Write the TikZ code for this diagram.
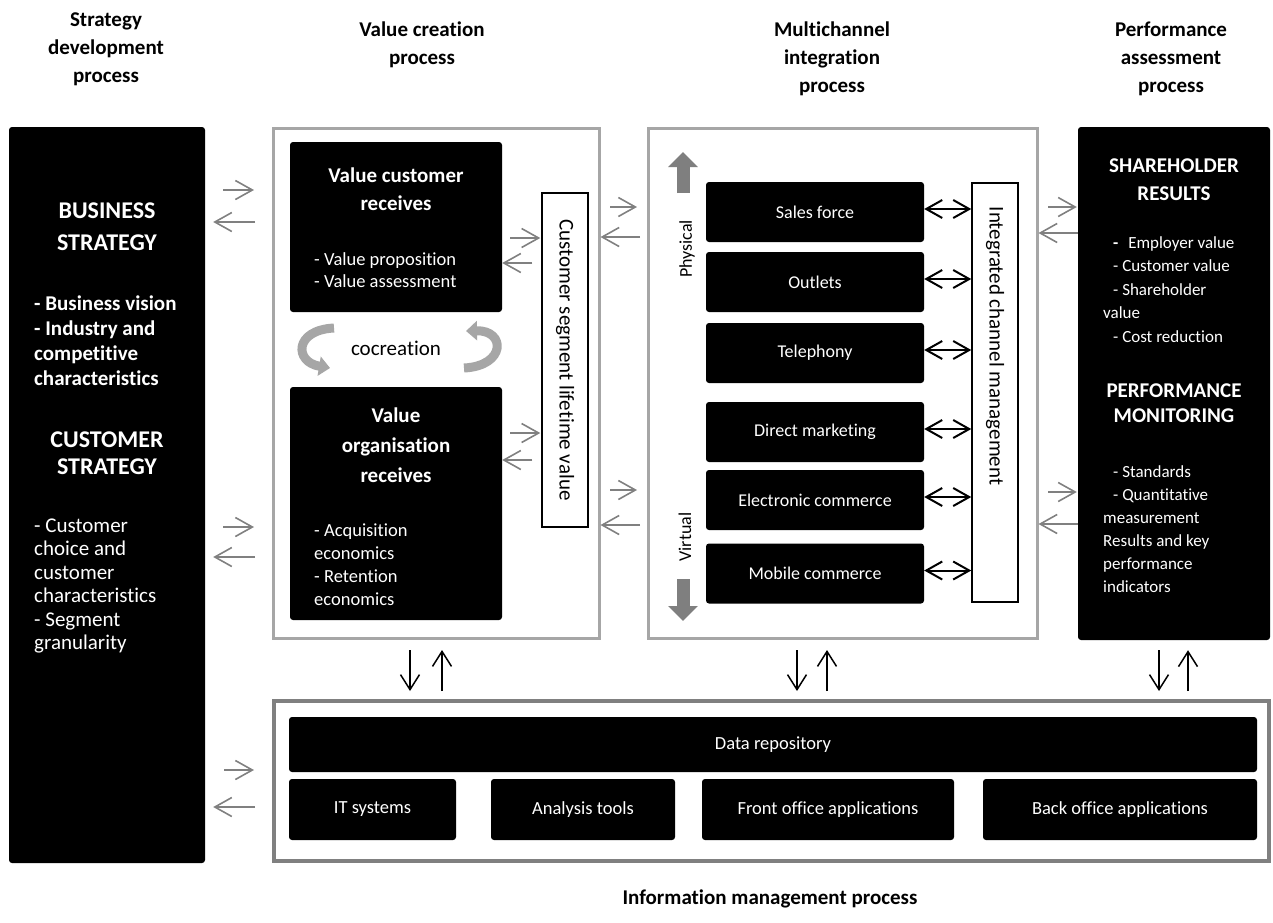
\documentclass[tikz,border=0pt]{standalone}
\usepackage{fontspec}
\setmainfont{Carlito}[Ligatures=NoCommon]
\usetikzlibrary{arrows.meta}
\usetikzlibrary{positioning}

\definecolor{framegray}{HTML}{A6A6A6}
\definecolor{linkgray}{HTML}{808080}
\definecolor{thickgray}{HTML}{7F7F7F}

\tikzset{
  blackbox/.style={fill=black, text=white, rounded corners=3pt, inner sep=0pt,
    align=center, font=\fontsize{18}{22}\selectfont},
  framebox/.style={draw=framegray, line width=3pt, fill=white, inner sep=0pt},
  labelbox/.style={draw=black, line width=1.5pt, fill=white, inner sep=0pt,
    font=\fontsize{21}{25}\selectfont},
  headtext/.style={anchor=base, align=center, inner sep=0pt,
    font=\bfseries\fontsize{21}{28}\selectfont},
  linkarrow/.style={draw=linkgray, line width=1.6pt,
    -{Straight Barb[length=17pt,width=19pt]}},
  dblarrow/.style={draw=black, line width=2pt,
    {Straight Barb[length=16pt,width=18pt]}-{Straight Barb[length=16pt,width=18pt]}},
  vertarrow/.style={draw=black, line width=1.5pt,
    -{Straight Barb[length=15pt,width=19pt]}},
  thickarrow/.style={draw=thickgray, line width=13pt,
    -{Triangle[length=15pt,width=29pt]}},
  cyclearrow/.style={draw=framegray, line width=9pt,
    -{Triangle[length=11pt,width=19pt]}}
}

\begin{document}
\begin{tikzpicture}[x=1pt, y=-1pt]
    \useasboundingbox (0,0) rectangle (1273,922);

    % column headers (placed at the baseline of their last line)
    \begin{scope}[every node/.style={headtext}]
    \node (hstrat) at (106,82) {Strategy\\development\\process};
    \node (hvalue) at (422,64) {Value creation\\process};
    \node (hmulti) at (832,92) {Multichannel\\integration\\process};
    \node (hperf) at (1171,92) {Performance\\assessment\\process};
    \node (hinfo) at (770,904) {Information management process};
    \end{scope}

    % frames of the processes
    \node[framebox, minimum width=326pt, minimum height=510pt] (vcp) at (436,383) {};
    \node[framebox, minimum width=389pt, minimum height=510pt] (mcp) at (842.5,383) {};
    \node[framebox, draw=linkgray, line width=4pt, minimum width=995pt, minimum height=160pt] (imp) at (771.5,781) {};

    % strategy development
    \node[blackbox, minimum width=196pt, minimum height=736pt] (strat) at (107,495) {};
    \begin{scope}[every node/.style={text=white, inner sep=0pt}]
    \node[anchor=base, align=center, font=\bfseries\fontsize{24}{32}\selectfont] (bstitle) at (107,250) {BUSINESS\\STRATEGY};
    \node[anchor=base west, align=left, font=\bfseries\fontsize{21}{25}\selectfont] (bslist) at (34,385) {- Business vision\\- Industry and\\competitive\\characteristics};
    \node[anchor=base, align=center, font=\bfseries\fontsize{24}{27}\selectfont] (cstitle) at (107,474) {CUSTOMER\\STRATEGY};
    \node[anchor=base west, align=left, font=\fontsize{21}{23.5}\selectfont] (cslist) at (34,649.5) {- Customer\\choice and\\customer\\characteristics\\- Segment\\granularity};
    \end{scope}

    % value creation
    \node[blackbox, minimum width=212pt, minimum height=170pt] (vcr) at (396,227) {};
    \node[blackbox, minimum width=212pt, minimum height=233pt] (vor) at (396,503.5) {};
    \node[labelbox, minimum width=46pt, minimum height=334pt] (cslv) at (565,360) {\rotatebox{-90}{Customer segment lifetime value}};
    \begin{scope}[every node/.style={text=white, inner sep=0pt}]
    \node[anchor=base, align=center, font=\bfseries\fontsize{21}{28}\selectfont] (vcrtitle) at (396,210) {Value customer\\receives};
    \node[anchor=base west, align=left, font=\fontsize{18.5}{22}\selectfont] (vcrlist) at (314,287) {- Value proposition\\- Value assessment};
    \node[anchor=base, align=center, font=\bfseries\fontsize{21}{30}\selectfont] (vortitle) at (396,482) {Value\\organisation\\receives};
    \node[anchor=base west, align=left, font=\fontsize{18.5}{22.7}\selectfont] (vorlist) at (314,605) {- Acquisition\\economics\\- Retention\\economics};
    \end{scope}
    \node[anchor=base, inner sep=0pt, font=\fontsize{21}{25}\selectfont] (cocr) at (396,355) {cocreation};
    \draw[cyclearrow] (334,328) .. controls (294,330) and (294,362) .. (330,368);
    \draw[cyclearrow] (464,368) .. controls (506,366) and (506,330) .. (466,331);

    % multichannel integration
    \begin{scope}[every node/.style={blackbox, minimum width=218pt, minimum height=60pt}]
    \node (sales) at (815,212) {Sales force};
    \node (outl) at (815,282) {Outlets};
    \node (tele) at (815,353) {Telephony};
    \node (dirm) at (815,432) {Direct marketing};
    \node (ecom) at (815,500) {Electronic commerce};
    \node (mcom) at (815,573.5) {Mobile commerce};
    \end{scope}
    \node[labelbox, minimum width=46pt, minimum height=419pt] (icm) at (995,392.5) {};
    \node[inner sep=0pt, rotate=-90, font=\fontsize{21}{25}\selectfont] (icmtext) at (995,346) {Integrated channel management};
    \node[inner sep=0pt, rotate=90, font=\fontsize{18}{22}\selectfont] (phys) at (687,249) {Physical};
    \node[inner sep=0pt, rotate=90, font=\fontsize{18}{22}\selectfont] (virt) at (685,537) {Virtual};
    \coordinate (physA) at (683,193);
    \coordinate (physB) at (683,152);
    \coordinate (virtA) at (683,579);
    \coordinate (virtB) at (683,621);
    \draw[thickarrow] (physA) -- (physB);
    \draw[thickarrow] (virtA) -- (virtB);
    \foreach \ch in {sales,outl,tele,dirm,ecom,mcom}
      \path ([yshift=3pt]\ch.east) edge[dblarrow] ([yshift=3pt]\ch.east -| icm.west);

    % performance assessment
    \node[blackbox, minimum width=192pt, minimum height=513pt] (perf) at (1174,383.5) {};
    \begin{scope}[every node/.style={text=white, inner sep=0pt}]
    \node[anchor=base, align=center, font=\bfseries\fontsize{21}{28}\selectfont] (shtitle) at (1174,200) {SHAREHOLDER\\RESULTS};
    \node[anchor=base west, align=left, font=\fontsize{17}{23.5}\selectfont] (shlist) at (1103,342) {\hspace*{10pt}\textbf{-}\hspace{6pt} Employer value\\\hspace*{10pt}- Customer value\\\hspace*{10pt}- Shareholder\\value\\\hspace*{10pt}- Cost reduction};
    \node[anchor=base, align=center, font=\bfseries\fontsize{21}{25}\selectfont] (pmtitle) at (1174,422) {PERFORMANCE\\MONITORING};
    \node[anchor=base west, align=left, font=\fontsize{17}{23}\selectfont] (pmlist) at (1103,592) {\hspace*{10pt}- Standards\\\hspace*{10pt}- Quantitative\\measurement\\Results and key\\performance\\indicators};
    \end{scope}

    % information management
    \begin{scope}[every node/.style={blackbox, minimum height=61pt, font=\fontsize{18.5}{22}\selectfont}]
    \node[minimum width=968pt, minimum height=55pt] (repo) at (773,744.5) {Data repository};
    \node[minimum width=167pt] (itsys) at (372.5,809.5) {IT systems};
    \node[minimum width=184pt] (anat) at (583,809.5) {Analysis tools};
    \node[minimum width=252pt] (front) at (828,809.5) {Front office applications};
    \node[minimum width=274pt] (back) at (1120,809.5) {Back office applications};
    \end{scope}

    % links between the processes
    \begin{scope}[every edge/.style={linkarrow}]
    \path (strat.east |- 0,190) edge[shorten <=18pt, shorten >=17.5pt] (vcp.west |- 0,190);
    \path (vcp.west |- 0,222) edge[shorten <=16.5pt, shorten >=8pt] (strat.east |- 0,222);
    \path (strat.east |- 0,527) edge[shorten <=18pt, shorten >=17.5pt] (vcp.west |- 0,527);
    \path (vcp.west |- 0,557) edge[shorten <=16.5pt, shorten >=8pt] (strat.east |- 0,557);
    \path (strat.east |- 0,770) edge[shorten <=19pt, shorten >=18pt] (imp.west |- 0,770);
    \path (imp.west |- 0,807) edge[shorten <=17pt, shorten >=8pt] (strat.east |- 0,807);
    \path (vcp.east |- 0,207) edge[shorten <=9.5pt, shorten >=9.5pt] (mcp.west |- 0,207);
    \path (mcp.west |- 0,237) edge[shorten <=6.5pt] (vcp.east |- 0,237);
    \path (vcp.east |- 0,490) edge[shorten <=9.5pt, shorten >=9.5pt] (mcp.west |- 0,490);
    \path (mcp.west |- 0,525) edge[shorten <=6.5pt] (vcp.east |- 0,525);
    \path (mcp.east |- 0,207) edge[shorten <=9.5pt, shorten >=1pt] (perf.west |- 0,207);
    \path (perf.west |- 0,233) edge (mcp.east |- 0,233);
    \path (mcp.east |- 0,492) edge[shorten <=9.5pt, shorten >=1pt] (perf.west |- 0,492);
    \path (perf.west |- 0,524) edge (mcp.east |- 0,524);
    \path (vcr.east |- 0,238) edge[shorten <=8pt, shorten >=1pt] (cslv.west |- 0,238);
    \path (cslv.west |- 0,263) edge[shorten <=9pt] (vcr.east |- 0,263);
    \path (vor.east |- 0,433) edge[shorten <=8pt, shorten >=1pt] (cslv.west |- 0,433);
    \path (cslv.west |- 0,460) edge[shorten <=9pt] (vor.east |- 0,460);
    \end{scope}

    % links to the information management
    \begin{scope}[every edge/.style={vertarrow}]
    \path (vcp.south -| 410,0) edge[shorten <=10.5pt, shorten >=8pt] (imp.north -| 410,0);
    \path (imp.north -| 442,0) edge[shorten <=8pt, shorten >=10.5pt] (vcp.south -| 442,0);
    \path (mcp.south -| 797,0) edge[shorten <=10.5pt, shorten >=8pt] (imp.north -| 797,0);
    \path (imp.north -| 827,0) edge[shorten <=8pt, shorten >=10.5pt] (mcp.south -| 827,0);
    \path (perf.south -| 1159,0) edge[shorten <=10pt, shorten >=8pt] (imp.north -| 1159,0);
    \path (imp.north -| 1188,0) edge[shorten <=8pt, shorten >=10pt] (perf.south -| 1188,0);
    \end{scope}

\end{tikzpicture}
\end{document}
